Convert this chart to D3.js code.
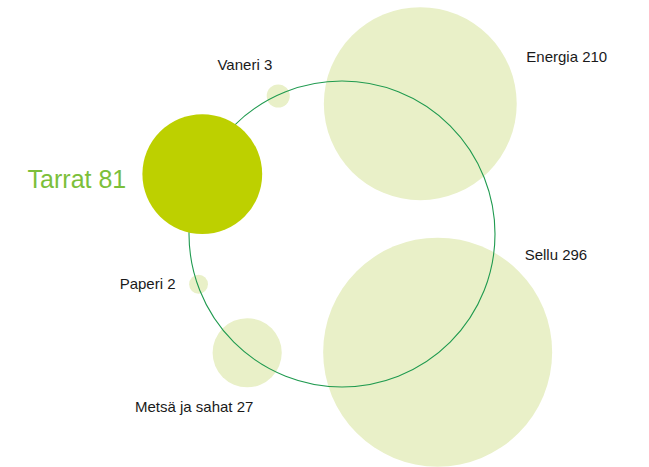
<!DOCTYPE html>
<html>
<head>
<meta charset="utf-8">
<script src="https://cdn.jsdelivr.net/npm/d3@7"></script>
<style>
  body { margin: 0; background: #fff; }
  text { font-family: "Liberation Sans", Arial, sans-serif; }
</style>
</head>
<body>
<svg id="chart"></svg>
<script>
// data
const names = ["Energia", "Sellu", "Metsä ja sahat", "Paperi", "Tarrat", "Vaneri"];
const values = [210, 296, 27, 2, 81, 3];
const highlight = ["Tarrat"];

// layout: angle on the ring (degrees, 0 = right, clockwise) and label offsets from bubble centre
const angles = [-59, 51, 128.6, 160.7, -156.8, -114.8];
const labelOffsets = [[106, -42, "start"], [87, -92, "start"], [-53, 59, "middle"], [-23, 5, "end"], [-76, 14, "end"], [-6, -26, "end"]];

const width = 649, height = 467;
const cx = 342, cy = 234, ringR = 152;

const svg = d3.select("#chart")
  .attr("width", width)
  .attr("height", height);

const rScale = d3.scaleSqrt()
  .domain([0, d3.max(values)])
  .range([0, 114.5]);

const angle = d3.scaleLinear().domain([0, 360]).range([0, 2 * Math.PI]);

const nodes = names.map((n, i) => {
  const a = angle(angles[i]);
  return {
    name: n,
    value: values[i],
    x: cx + ringR * Math.cos(a),
    y: cy + ringR * Math.sin(a),
    r: rScale(values[i]),
    hi: highlight.includes(n),
    off: labelOffsets[i]
  };
});

// light bubbles
svg.append("g")
  .selectAll("circle")
  .data(nodes.filter(d => !d.hi))
  .join("circle")
  .attr("cx", d => d.x)
  .attr("cy", d => d.y)
  .attr("r", d => d.r)
  .attr("fill", "#e9f0c8");

// ring
svg.append("circle")
  .attr("cx", cx)
  .attr("cy", cy)
  .attr("r", ringR + 1)
  .attr("fill", "none")
  .attr("stroke", "#1f9a4f")
  .attr("stroke-width", 1.1);

// highlighted bubble
svg.append("g")
  .selectAll("circle")
  .data(nodes.filter(d => d.hi))
  .join("circle")
  .attr("cx", d => d.x)
  .attr("cy", d => d.y)
  .attr("r", d => d.r)
  .attr("fill", "#bdd000");

// labels
svg.append("g")
  .selectAll("text")
  .data(nodes)
  .join("text")
  .attr("x", d => d.x + d.off[0])
  .attr("y", d => d.y + d.off[1])
  .attr("text-anchor", d => d.off[2])
  .attr("font-size", d => d.hi ? 25 : 15)
  .attr("fill", d => d.hi ? "#7cbf3a" : "#1a1a1a")
  .text(d => `${d.name} ${d.value}`);
</script>
</body>
</html>
